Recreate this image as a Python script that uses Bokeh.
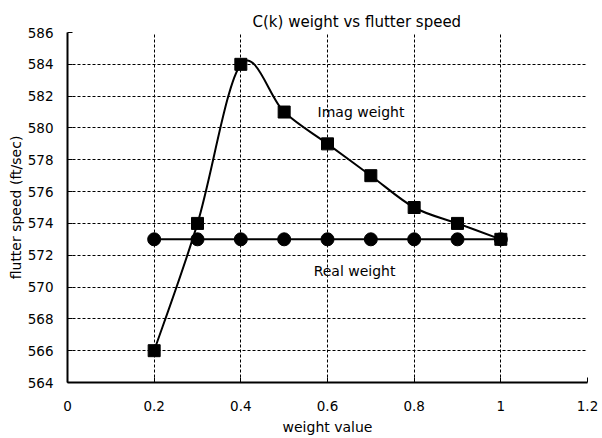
from bokeh.plotting import figure
from bokeh.models import Range1d, FixedTicker, Label, ColumnDataSource
from bokeh.embed import file_html
from bokeh.resources import INLINE

# data
weights = [0.2, 0.3, 0.4, 0.5, 0.6, 0.7, 0.8, 0.9, 1.0]
imag_speed = [566, 574, 584, 581, 579, 577, 575, 574, 573]
real_speed = [573, 573, 573, 573, 573, 573, 573, 573, 573]
x_ticks = [0, 0.2, 0.4, 0.6, 0.8, 1.0, 1.2]
y_ticks = [564, 566, 568, 570, 572, 574, 576, 578, 580, 582, 584, 586]

FONT = "DejaVu Sans"

p = figure(width=600, height=438, output_backend="svg", toolbar_location=None,
           x_range=Range1d(0, 1.2), y_range=Range1d(564, 586),
           min_border_left=67, min_border_right=13, min_border_top=32, min_border_bottom=56)
p.outline_line_color = None
p.background_fill_color = "white"
p.border_fill_color = "white"

# title
p.title.text = "C(k) weight vs flutter speed"
p.title.align = "left"
p.title.offset = 185
p.title.text_font = FONT
p.title.text_font_size = "15px"
p.title.text_font_style = "normal"
p.title.text_color = "black"
p.title.standoff = 4

# axes
for ax in (p.xaxis[0], p.yaxis[0]):
    ax.axis_line_width = 2
    ax.axis_line_color = "black"
    ax.major_tick_in = 5
    ax.major_tick_out = 0
    ax.minor_tick_line_color = None
    ax.major_tick_line_color = "black"
    ax.major_tick_line_width = 1
    ax.major_label_text_font = FONT
    ax.major_label_text_font_size = "13.5px"
    ax.major_label_text_color = "black"
    ax.axis_label_text_font = FONT
    ax.axis_label_text_font_size = "14px"
    ax.axis_label_text_font_style = "normal"
    ax.axis_label_text_color = "black"

p.xaxis.ticker = FixedTicker(ticks=x_ticks)
p.yaxis.ticker = FixedTicker(ticks=y_ticks)
p.xaxis.major_label_overrides = {1.0: "1"}
p.xaxis.axis_label = "weight value"
p.yaxis.axis_label = "flutter speed (ft/sec)"
p.xaxis.major_label_standoff = 18
p.xaxis.axis_label_standoff = 5
p.yaxis.major_label_standoff = 14
p.yaxis.axis_label_standoff = 1

# grid (interior ticks only)
p.xgrid.ticker = FixedTicker(ticks=[t for t in x_ticks if 0 < t < 1.2])
p.ygrid.ticker = FixedTicker(ticks=[t for t in y_ticks if 564 < t < 586])
for g in (p.xgrid, p.ygrid):
    g.grid_line_color = "black"
    g.grid_line_dash = "3 2"
    g.grid_line_width = 1

# smoothed curve for imaginary weight (Catmull-Rom -> cubic Bezier)
n = len(weights)
x0, y0, x1, y1, cx0, cy0, cx1, cy1 = ([] for _ in range(8))
for i in range(n - 1):
    im1 = max(i - 1, 0)
    ip2 = min(i + 2, n - 1)
    x0.append(weights[i]); y0.append(imag_speed[i])
    x1.append(weights[i + 1]); y1.append(imag_speed[i + 1])
    cx0.append(weights[i] + (weights[i + 1] - weights[im1]) / 6)
    cy0.append(imag_speed[i] + (imag_speed[i + 1] - imag_speed[im1]) / 6)
    cx1.append(weights[i + 1] - (weights[ip2] - weights[i]) / 6)
    cy1.append(imag_speed[i + 1] - (imag_speed[ip2] - imag_speed[i]) / 6)
bez = ColumnDataSource(dict(x0=x0, y0=y0, x1=x1, y1=y1, cx0=cx0, cy0=cy0, cx1=cx1, cy1=cy1))
p.bezier(x0="x0", y0="y0", x1="x1", y1="y1", cx0="cx0", cy0="cy0", cx1="cx1", cy1="cy1",
         source=bez, line_color="black", line_width=2)

# real weight line
p.line(weights, real_speed, line_color="black", line_width=2)
p.scatter(weights, real_speed, marker="circle", size=13, fill_color="black", line_color="black")

# imag markers
p.scatter(weights, imag_speed, marker="square", size=12, fill_color="black", line_color="black")

# annotations
p.add_layout(Label(x=0.577, y=581, text="Imag weight", text_font=FONT, text_font_size="14px",
                   text_baseline="middle", text_color="black"))
p.add_layout(Label(x=0.568, y=571, text="Real weight", text_font=FONT, text_font_size="14px",
                   text_baseline="middle", text_color="black"))

open("out.html", "w").write(file_html(p, INLINE))
